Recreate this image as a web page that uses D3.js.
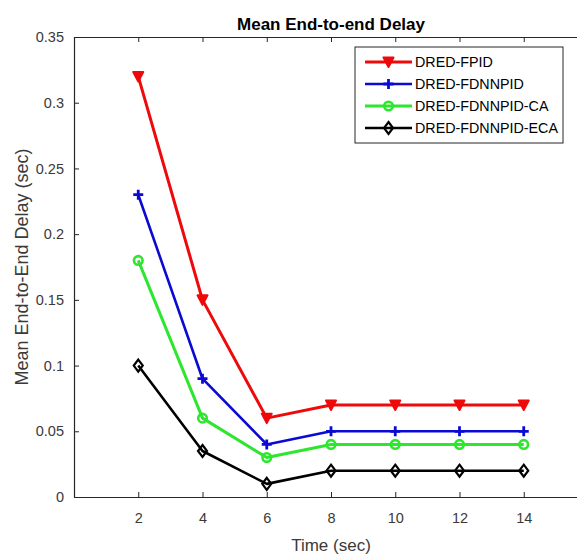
<!DOCTYPE html>
<html>
<head>
<meta charset="utf-8">
<script src="https://cdn.jsdelivr.net/npm/d3@7"></script>
<style>
  html, body { margin: 0; padding: 0; background: #fff; }
  svg { display: block; font-family: "Liberation Sans", Arial, sans-serif; }
</style>
</head>
<body>
<svg id="chart" width="577" height="554"></svg>
<script>
// ---- data ----
const times = [2, 4, 6, 8, 10, 12, 14];
const seriesNames = ["DRED-FPID", "DRED-FDNNPID", "DRED-FDNNPID-CA", "DRED-FDNNPID-ECA"];
const fpid = [0.32, 0.15, 0.06, 0.07, 0.07, 0.07, 0.07];
const fdnnpid = [0.23, 0.09, 0.04, 0.05, 0.05, 0.05, 0.05];
const fdnnpidCA = [0.18, 0.06, 0.03, 0.04, 0.04, 0.04, 0.04];
const fdnnpidECA = [0.10, 0.035, 0.01, 0.02, 0.02, 0.02, 0.02];
const xTicks = [2, 4, 6, 8, 10, 12, 14];
const yTicks = [0, 0.05, 0.1, 0.15, 0.2, 0.25, 0.3, 0.35];
const yTickLabels = ["0", "0.05", "0.1", "0.15", "0.2", "0.25", "0.3", "0.35"];
const titleText = "Mean End-to-end Delay";
const xLabel = "Time (sec)";
const yLabel = "Mean End-to-End Delay (sec)";

// ---- styles ----
const styles = [
  { color: "#ee0a0a", marker: "triangleDown", width: 3 },
  { color: "#0a0ad2", marker: "plus", width: 2.6 },
  { color: "#2ee62e", marker: "circle", width: 3 },
  { color: "#000000", marker: "diamond", width: 2.6 }
];
const seriesValues = [fpid, fdnnpid, fdnnpidCA, fdnnpidECA];

const svg = d3.select("#chart");
const axisColor = "#262626";

const x = d3.scaleLinear().domain([0, 16]).range([74, 588]);
const y = d3.scaleLinear().domain([0, 0.35]).range([497, 37]);

// axes
const xAxis = d3.axisBottom(x).tickValues(xTicks).tickSizeInner(-5).tickSizeOuter(0).tickPadding(16);
const gx = svg.append("g").attr("transform", `translate(0,${y(0)})`).call(xAxis);
const yAxis = d3.axisLeft(y).tickValues(yTicks).tickFormat((d, i) => yTickLabels[i])
  .tickSizeInner(-5).tickSizeOuter(0).tickPadding(10);
const gy = svg.append("g").attr("transform", `translate(${x(0)},0)`).call(yAxis);
const xTop = d3.axisTop(x).tickValues(xTicks).tickSizeInner(-5).tickSizeOuter(0).tickFormat("");
const gt = svg.append("g").attr("transform", `translate(0,${y(0.35)})`).call(xTop);

[gx, gy, gt].forEach(g => {
  g.selectAll("path.domain").attr("stroke", axisColor).attr("stroke-width", 1.2);
  g.selectAll(".tick line").attr("stroke", axisColor).attr("stroke-width", 1);
  g.selectAll(".tick text").attr("fill", "#3a3a3a").attr("font-size", 14.5)
    .attr("font-family", "'Liberation Sans', Arial, sans-serif");
});

// markers
function drawMarker(g, type, cx, cy, color) {
  if (type === "triangleDown") {
    g.append("path")
      .attr("d", `M${cx - 5},${cy - 4.5} L${cx + 5},${cy - 4.5} L${cx},${cy + 5} Z`)
      .attr("fill", color).attr("stroke", color).attr("stroke-width", 2).attr("stroke-linejoin", "round");
  } else if (type === "plus") {
    g.append("path")
      .attr("d", `M${cx - 5},${cy} L${cx + 5},${cy} M${cx},${cy - 5} L${cx},${cy + 5}`)
      .attr("stroke", color).attr("stroke-width", 2.8).attr("fill", "none");
  } else if (type === "circle") {
    g.append("circle").attr("cx", cx).attr("cy", cy).attr("r", 4.3)
      .attr("fill", "none").attr("stroke", color).attr("stroke-width", 2.6);
  } else if (type === "diamond") {
    g.append("path")
      .attr("d", `M${cx},${cy - 6} L${cx + 4.5},${cy} L${cx},${cy + 6} L${cx - 4.5},${cy} Z`)
      .attr("fill", "none").attr("stroke", color).attr("stroke-width", 2.2);
  }
}

// lines
const line = d3.line().x(d => x(d[0])).y(d => y(d[1]));
seriesValues.forEach((vals, si) => {
  const st = styles[si];
  const pts = times.map((t, i) => [t, vals[i]]);
  const g = svg.append("g");
  g.append("path").attr("d", line(pts)).attr("fill", "none")
    .attr("stroke", st.color).attr("stroke-width", st.width).attr("stroke-linejoin", "round");
  pts.forEach(p => drawMarker(g, st.marker, x(p[0]), y(p[1]), st.color));
});

// title & labels
svg.append("text").attr("x", (x(0) + x(16)) / 2).attr("y", 30).attr("text-anchor", "middle")
  .attr("font-size", 17).attr("font-weight", "bold").attr("fill", "#000").text(titleText);
svg.append("text").attr("x", (x(0) + x(16)) / 2).attr("y", 551).attr("text-anchor", "middle")
  .attr("font-size", 17).attr("fill", "#3a3a3a").text(xLabel);
svg.append("text").attr("transform", `translate(28,${(y(0) + y(0.35)) / 2}) rotate(-90)`)
  .attr("text-anchor", "middle").attr("font-size", 18).attr("fill", "#3a3a3a").text(yLabel);

// legend
const leg = svg.append("g");
leg.append("rect").attr("x", 355).attr("y", 47).attr("width", 208).attr("height", 96)
  .attr("fill", "#fff").attr("stroke", axisColor).attr("stroke-width", 1);
seriesNames.forEach((name, i) => {
  const ly = 62 + i * 22;
  const st = styles[i];
  leg.append("line").attr("x1", 365).attr("x2", 412).attr("y1", ly).attr("y2", ly)
    .attr("stroke", st.color).attr("stroke-width", st.width);
  drawMarker(leg, st.marker, 388.5, ly, st.color);
  leg.append("text").attr("x", 415).attr("y", ly + 5).attr("font-size", 14.3)
    .attr("fill", "#000").text(name);
});
</script>
</body>
</html>
